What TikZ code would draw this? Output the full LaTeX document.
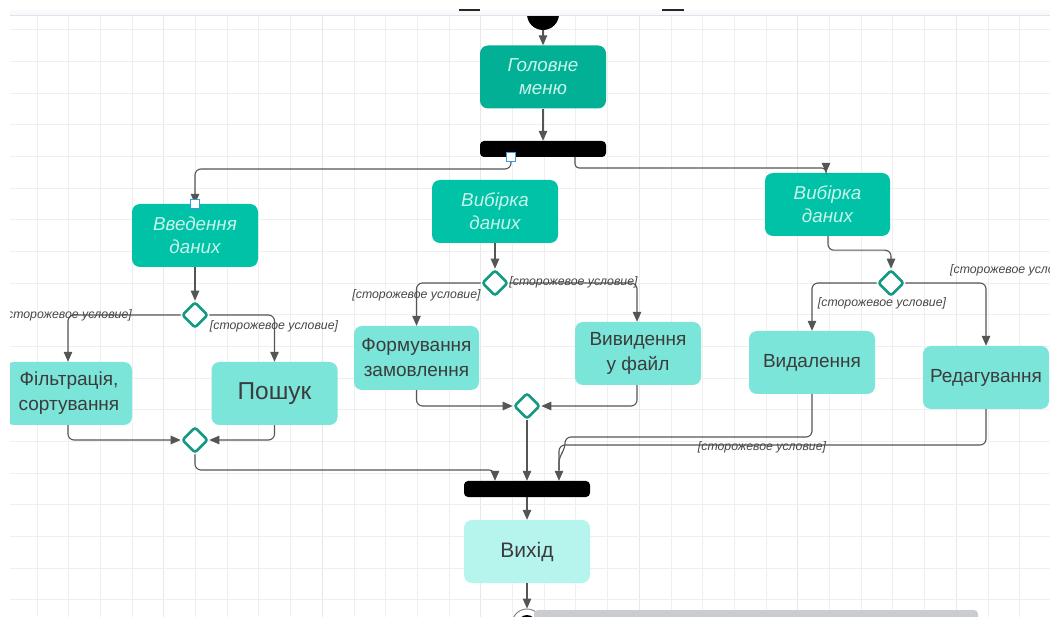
\documentclass[tikz,border=0pt]{standalone}
\usepackage{fontspec}
\setmainfont{Liberation Sans}
\usetikzlibrary{shapes.geometric,arrows.meta,calc}
\definecolor{tealmain}{HTML}{02B096}
\definecolor{tealdark}{HTML}{00C2A7}
\definecolor{teallight}{HTML}{7AE5D8}
\definecolor{exitc}{HTML}{B6F5ED}
\definecolor{mint}{HTML}{C8F4EB}
\definecolor{txt}{HTML}{3C3C3C}
\definecolor{dgreen}{HTML}{149A84}
\definecolor{lc}{HTML}{555555}
\definecolor{gtxt}{HTML}{474747}
\definecolor{gridminor}{HTML}{EFEFEF}
\definecolor{gridmajor}{HTML}{E8E8E8}
\definecolor{band}{HTML}{F8F9FB}
\definecolor{bandline}{HTML}{E0E3E8}
\definecolor{selblue}{HTML}{3A9BE0}
\definecolor{greybar}{HTML}{C9CCD1}
\begin{document}
\begin{tikzpicture}[x=1pt,y=-1pt,
  darkbox/.style={rounded corners=8pt, fill=tealdark, minimum width=126pt, minimum height=63pt, inner sep=0pt, align=center, text=mint, font=\fontsize{18.8}{23}\selectfont\itshape},
  lightbox/.style={rounded corners=8pt, fill=teallight, minimum width=126pt, minimum height=63pt, inner sep=0pt, align=center, text=txt, font=\fontsize{19}{25}\selectfont},
  barbox/.style={fill=black, rounded corners=4pt, minimum width=126pt, minimum height=16pt, inner sep=0pt},
  decision/.style={diamond, aspect=1, draw=dgreen, line width=2.6pt, fill=white, minimum width=26pt, minimum height=26pt, inner sep=0pt, rounded corners=2.5pt},
  conn/.style={draw=lc, line width=1.1pt, rounded corners=6pt, -{Triangle[length=10pt,width=8.5pt]}},
  plain/.style={draw=lc, line width=1.1pt, rounded corners=6pt},
  guard/.style={font=\fontsize{12.3}{14}\selectfont\itshape, text=gtxt, inner sep=0pt},
  selbox/.style={draw=selblue, fill=white, line width=1pt, minimum size=9pt, inner sep=0pt}
]
\useasboundingbox (0,0) rectangle (1050,617);
\fill[white] (0,0) rectangle (1050,617);
\begin{scope}
\clip (10,16) rectangle (1050,617);
% grid
\foreach \k in {0,...,32} {
  \pgfmathsetmacro{\xx}{37+31.7*\k}
  \pgfmathtruncatemacro{\m}{mod(\k,5)}
  \ifnum\m=4 \draw[gridmajor, line width=1.2pt] (\xx,16) -- (\xx,617);
  \else \draw[gridminor, line width=1pt] (\xx,16) -- (\xx,617); \fi
}
\foreach \k in {0,...,18} {
  \pgfmathsetmacro{\yy}{30+31.65*\k}
  \draw[gridminor, line width=1pt] (10,\yy) -- (1050,\yy);
}

% nodes
\node[circle, fill=black, minimum size=32pt, inner sep=0pt] (start) at (543,14) {};
\node[darkbox, fill=tealmain] (menu) at (543,77) {Головне\\меню};
\node[barbox] (fork) at (543,149) {};
\node[darkbox] (vved) at (195,235.5) {Введення\\даних};
\node[darkbox] (vybm) at (495,211.5) {Вибірка\\даних};
\node[darkbox, minimum width=125pt] (vybr) at (827.5,204.5) {Вибірка\\даних};

\node[decision] (d1) at (195,315) {};
\node[decision] (d2) at (195,440) {};
\node[decision] (d3) at (495,283) {};
\node[decision] (d4) at (527,406) {};
\node[decision] (d5) at (891,283) {};

\node[lightbox] (filt) at (69,393.5) {Фільтрація,\\сортування};
\node[lightbox, font=\fontsize{24.5}{28}\selectfont] (posh) at (274.5,393.5) {Пошук};
\node[lightbox, minimum width=125pt, minimum height=64pt] (form) at (416.5,358) {Формування\\замовлення};
\node[lightbox] (vyv) at (638,353.5) {Вивидення\\у файл};
\node[lightbox] (vyd) at (812,362.5) {Видалення};
\node[lightbox] (red) at (986,377.5) {Редагування};

\node[barbox] (join) at (527,489) {};
\node[lightbox, fill=exitc, font=\fontsize{21}{25}\selectfont] (exit) at (527,551.5) {Вихід};

% end node
\node[circle, draw=lc!70, line width=1pt, fill=white, minimum size=30pt, inner sep=0pt] (endn) at (527,624) {};
\fill[black] (endn.center) circle (9pt);
\fill[greybar, rounded corners=4pt] (534,610) rectangle (978,622);

% connectors
\draw[conn] (start.south) -- (menu.north);
\draw[conn] (menu.south) -- (fork.north);
\coordinate (fl) at (511,157);
\coordinate (fr) at (575,157);
\draw[conn] (fl) |- (vved.north |- 0,169) -- (vved.north);
\draw[conn, rounded corners=4pt] (fr) |- (826,168) -- (vybr.north -| 826,0);
\node[selbox] at (fl) {};
\node[selbox] at (vved.north) {};

\draw[conn] (vved.south) -- (d1.north);
\draw[conn] (d1.west) -| (filt.north -| 68,0);
\draw[conn] (d1.east) -| (posh.north);
\draw[conn] (filt.south -| 68,0) |- (d2.west);
\draw[conn] (posh.south) |- (d2.east);
\coordinate (j1) at (495,470);
\draw[conn] (d2.south) |- (j1) -- (join.north -| j1);

\draw[conn] (vybm.south) -- (d3.north);
\draw[conn] (d3.west) -| (form.north);
\draw[conn] (d3.east) -| (vyv.north -| 637,0);
\draw[conn] (form.south) |- (d4.west);
\draw[conn] (vyv.south -| 637,0) |- (d4.east);
\draw[conn] (d4.south) -- (join.north);

\draw[conn] (vybr.south -| 828,0) -- ++(0,14) -| (d5.north);
\draw[conn] (d5.west) -| (vyd.north);
\draw[conn] (d5.east) -| (red.north);
\coordinate (j3) at (565,437);
\coordinate (j4) at (559,445);
\draw[plain] (vyd.south) |- (j3) -- (565,449) -- (559,457) -- (559,470);
\draw[conn] (red.south) |- (j4) -- (join.north -| j4);

\draw[conn] (join.south) -- (exit.north);
\draw[conn] (exit.south) -- (endn.north);

% guard labels
\node[guard, anchor=east] at (132,315) {[сторожевое условие]};
\node[guard] at (274,326.5) {[сторожевое условие]};
\node[guard] at (416.5,295) {[сторожевое условие]};
\node[guard] at (573.5,282) {[сторожевое условие]};
\node[guard] at (882,303.5) {[сторожевое условие]};
\node[guard, anchor=west] at (950,270) {[сторожевое условие]};
\node[guard] at (762,447) {[сторожевое условие]};
\end{scope}

% header band
\fill[white] (0,0) rectangle (1050,10);
\fill[band] (10,10) rectangle (1050,16);
\draw[bandline, line width=1pt] (10,16) -- (1050,16);
\draw[black!85, line width=2.5pt] (459,10) -- (480,10);
\draw[black!85, line width=2.5pt] (662,10) -- (684,10);
\end{tikzpicture}
\end{document}
